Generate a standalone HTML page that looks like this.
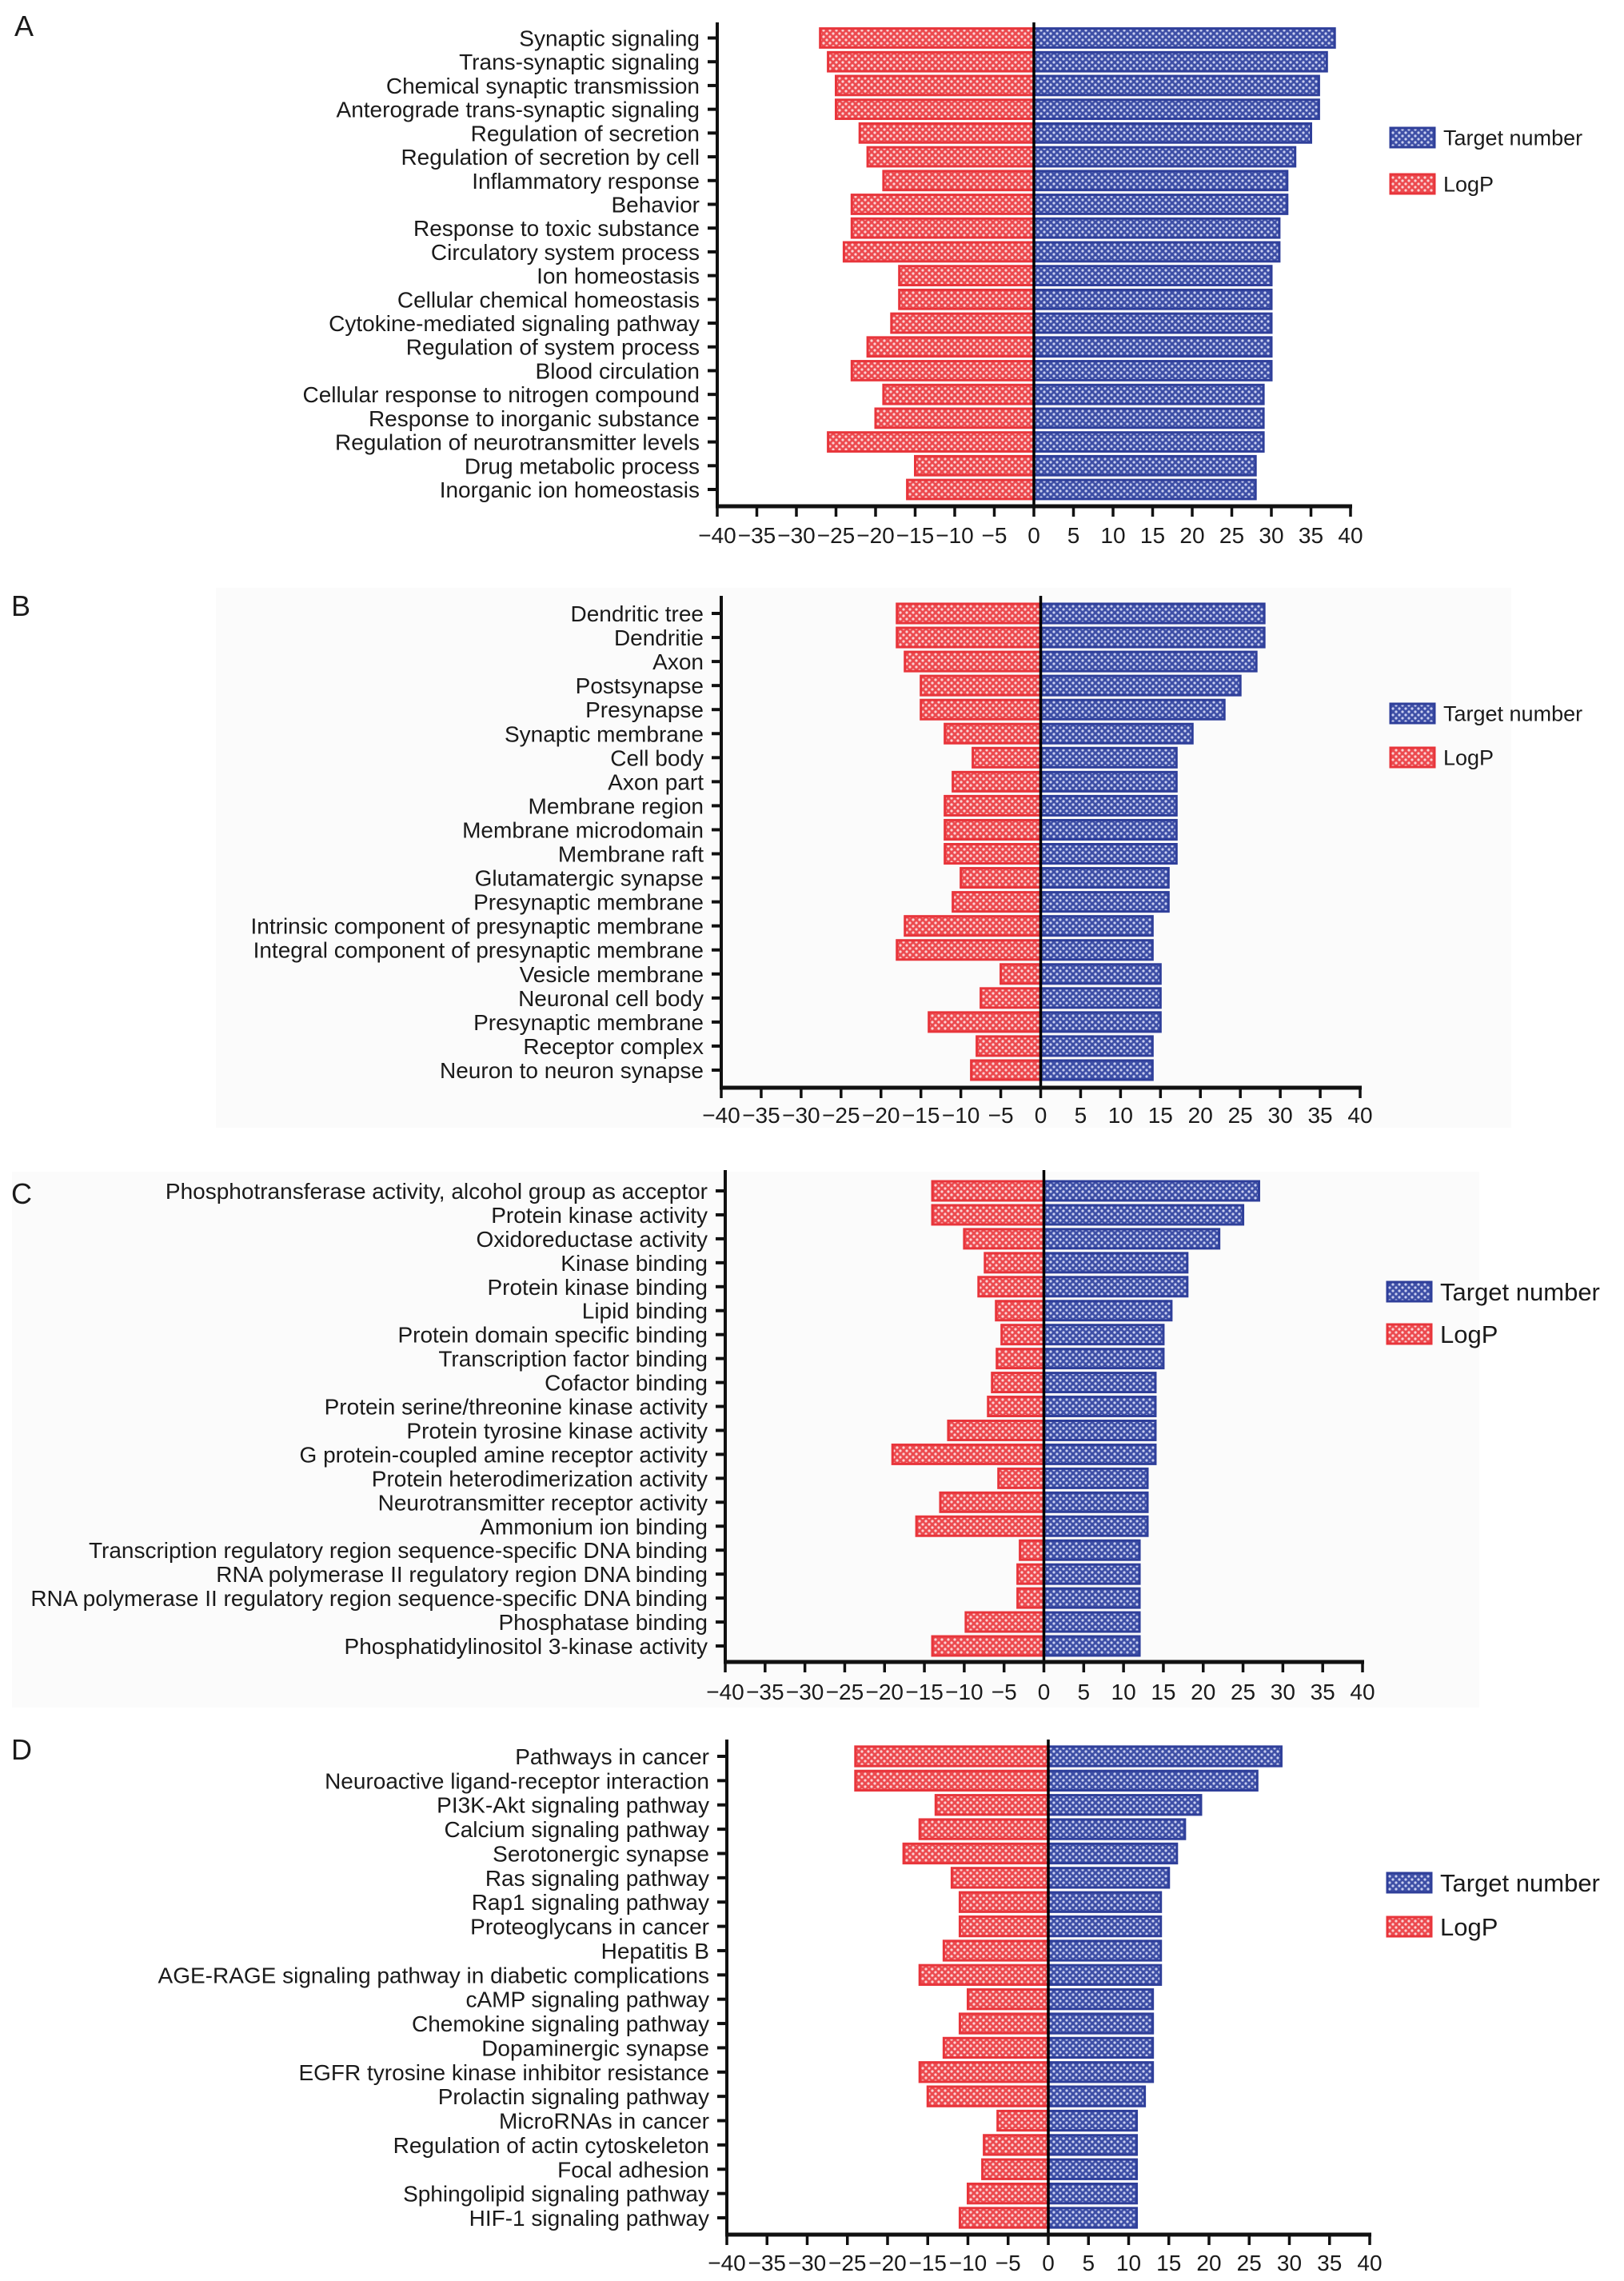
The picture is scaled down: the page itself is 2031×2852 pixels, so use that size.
<!DOCTYPE html>
<html><head><meta charset="utf-8"><style>
html,body{margin:0;padding:0;background:#fff}
svg{display:block}
text{font-family:"Liberation Sans",Arial,sans-serif;fill:#1a1a1a}
</style></head><body>
<svg id="fig" width="2031" height="2852" viewBox="0 0 2031 2852" xmlns="http://www.w3.org/2000/svg">
<defs>
<pattern id="pb" width="8" height="8" patternUnits="userSpaceOnUse"><rect width="8" height="8" fill="#3e4fa6"/><circle cx="2" cy="2" r="1.6" fill="#c9cff0"/><circle cx="6" cy="6" r="1.6" fill="#c9cff0"/></pattern>
<pattern id="pr" width="8" height="8" patternUnits="userSpaceOnUse"><rect width="8" height="8" fill="#ec4a4f"/><circle cx="2" cy="2" r="1.6" fill="#fbd3d4"/><circle cx="6" cy="6" r="1.6" fill="#fbd3d4"/></pattern>
</defs>
<rect x="270" y="735" width="1620" height="675" fill="#fbfbfb"/>
<rect x="15" y="1465" width="1835" height="670" fill="#fbfbfb"/>
</svg>
<script>
const ticks = [-40,-35,-30,-25,-20,-15,-10,-5,0,5,10,15,20,25,30,35,40];
const seriesNames = ["Target number","LogP"];

const catsA = ["Synaptic signaling","Trans-synaptic signaling","Chemical synaptic transmission","Anterograde trans-synaptic signaling","Regulation of secretion","Regulation of secretion by cell","Inflammatory response","Behavior","Response to toxic substance","Circulatory system process","Ion homeostasis","Cellular chemical homeostasis","Cytokine-mediated signaling pathway","Regulation of system process","Blood circulation","Cellular response to nitrogen compound","Response to inorganic substance","Regulation of neurotransmitter levels","Drug metabolic process","Inorganic ion homeostasis"];
const targetA = [38,37,36,36,35,33,32,32,31,31,30,30,30,30,30,29,29,29,28,28];
const logpA = [-27,-26,-25,-25,-22,-21,-19,-23,-23,-24,-17,-17,-18,-21,-23,-19,-20,-26,-15,-16];

const catsB = ["Dendritic tree","Dendritie","Axon","Postsynapse","Presynapse","Synaptic membrane","Cell body","Axon part","Membrane region","Membrane microdomain","Membrane raft","Glutamatergic synapse","Presynaptic membrane","Intrinsic component of presynaptic membrane","Integral component of presynaptic membrane","Vesicle membrane","Neuronal cell body","Presynaptic membrane","Receptor complex","Neuron to neuron synapse"];
const targetB = [28,28,27,25,23,19,17,17,17,17,17,16,16,14,14,15,15,15,14,14];
const logpB = [-18,-18,-17,-15,-15,-12,-8.5,-11,-12,-12,-12,-10,-11,-17,-18,-5,-7.5,-14,-8,-8.7];

const catsC = ["Phosphotransferase activity, alcohol group as acceptor","Protein kinase activity","Oxidoreductase activity","Kinase binding","Protein kinase binding","Lipid binding","Protein domain specific binding","Transcription factor binding","Cofactor binding","Protein serine/threonine kinase activity","Protein tyrosine kinase activity","G protein-coupled amine receptor activity","Protein heterodimerization activity","Neurotransmitter receptor activity","Ammonium ion binding","Transcription regulatory region sequence-specific DNA binding","RNA polymerase II regulatory region DNA binding","RNA polymerase II regulatory region sequence-specific DNA binding","Phosphatase binding","Phosphatidylinositol 3-kinase activity"];
const targetC = [27,25,22,18,18,16,15,15,14,14,14,14,13,13,13,12,12,12,12,12];
const logpC = [-14,-14,-10,-7.4,-8.2,-6,-5.3,-5.9,-6.5,-7,-12,-19,-5.7,-13,-16,-3,-3.3,-3.3,-9.8,-14];

const catsD = ["Pathways in cancer","Neuroactive ligand-receptor interaction","PI3K-Akt signaling pathway","Calcium signaling pathway","Serotonergic synapse","Ras signaling pathway","Rap1 signaling pathway","Proteoglycans in cancer","Hepatitis B","AGE-RAGE signaling pathway in diabetic complications","cAMP signaling pathway","Chemokine signaling pathway","Dopaminergic synapse","EGFR tyrosine kinase inhibitor resistance","Prolactin signaling pathway","MicroRNAs in cancer","Regulation of actin cytoskeleton","Focal adhesion","Sphingolipid signaling pathway","HIF-1 signaling pathway"];
const targetD = [29,26,19,17,16,15,14,14,14,14,13,13,13,13,12,11,11,11,11,11];
const logpD = [-24,-24,-14,-16,-18,-12,-11,-11,-13,-16,-10,-11,-13,-16,-15,-6.3,-8,-8.2,-10,-11];

const svg = document.getElementById('fig');
const NS = 'http://www.w3.org/2000/svg';
function mk(tag, attrs, parent){const e=document.createElementNS(NS,tag);for(const k in attrs)e.setAttribute(k,attrs[k]);(parent||svg).appendChild(e);return e;}

function panel(id, letter, cats, target, logp, L){
  const g = mk('g',{});
  
  
  const xs = v => L.x0 + (v+40)/80*(L.x1-L.x0);
  const n = cats.length;
  const ys = i => L.r0 + i*(L.r1-L.r0)/(n-1);
  const bh = (L.r1-L.r0)/(n-1)*0.8;
  const lt = mk('text',{x:L.lx,y:L.ly,'font-size':36},g); lt.textContent=letter;
  
  
  for(let i=0;i<n;i++){
    const y=ys(i);
    const rb = mk('rect',{x:xs(logp[i]),y:y-bh/2,width:xs(0)-xs(logp[i]),height:bh,fill:'url(#pr)',stroke:'#e8353b','stroke-width':3},g);
    
    
    const bb = mk('rect',{x:xs(0),y:y-bh/2,width:xs(target[i])-xs(0),height:bh,fill:'url(#pb)',stroke:'#2f3f9a','stroke-width':3},g);
    
    
    mk('line',{x1:L.x0-12,x2:L.x0,y1:y,y2:y,stroke:'#111','stroke-width':4},g);
    const t = mk('text',{x:L.x0-22,y:y+10,'font-size':28,'text-anchor':'end'},g); t.textContent=cats[i];
    
    
  }
  mk('line',{x1:L.x0,x2:L.x0,y1:L.top,y2:L.axY,stroke:'#111','stroke-width':4},g);
  mk('line',{x1:xs(0),x2:xs(0),y1:L.top,y2:L.axY,stroke:'#000','stroke-width':3.5},g);
  mk('line',{x1:L.x0-2,x2:L.x1+2,y1:L.axY,y2:L.axY,stroke:'#111','stroke-width':5},g);
  for(const v of ticks){
    mk('line',{x1:xs(v),x2:xs(v),y1:L.axY,y2:L.axY+13,stroke:'#111','stroke-width':3.5},g);
    const tt = mk('text',{x:xs(v),y:L.tly,'font-size':28,'text-anchor':'middle'},g);
    tt.textContent = v<0 ? '\u2212'+(-v) : String(v);
    
    
  }
  const fills=['url(#pb)','url(#pr)'], strokes=['#2f3f9a','#e8353b'];
  for(let k=0;k<2;k++){
    const ly=L.leg[k];
    const sw = mk('rect',{x:L.legX,y:ly-12,width:55,height:24,fill:fills[k],stroke:strokes[k],'stroke-width':3},g);
    
    
    const lg = mk('text',{x:L.legX+66,y:ly+L.lf*0.36,'font-size':L.lf},g); lg.textContent=seriesNames[k];
    
    
  }
}
panel('a','A',catsA,targetA,logpA,{x0:897,x1:1689,r0:47.5,r1:612,axY:633,tly:679,top:28,lx:18,ly:45,legX:1739,leg:[172,230],lf:27});
panel('b','B',catsB,targetB,logpB,{x0:902,x1:1701,r0:767,r1:1338,axY:1360,tly:1404,top:745,lx:14,ly:770,legX:1739,leg:[892,947],lf:27});
panel('c','C',catsC,targetC,logpC,{x0:907,x1:1704,r0:1489,r1:2058,axY:2078,tly:2125,top:1463,lx:14,ly:1505,legX:1735,leg:[1615,1668],lf:31});
panel('d','D',catsD,targetD,logpD,{x0:909,x1:1713,r0:2196,r1:2773,axY:2794,tly:2839,top:2175,lx:14,ly:2200,legX:1735,leg:[2354,2409],lf:31});
</script>
</body></html>
